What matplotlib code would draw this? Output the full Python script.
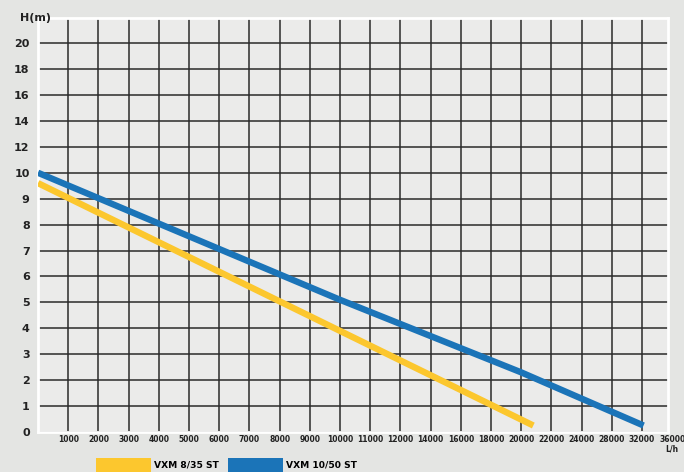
import numpy as np
import matplotlib
matplotlib.use("Agg")
import matplotlib.pyplot as plt
from matplotlib.patches import Patch

# axis tick labels (evenly spaced on the chart, irregular values)
flow_ticks = [0, 1000, 2000, 3000, 4000, 5000, 6000, 7000, 8000, 9000, 10000,
              11000, 12000, 14000, 16000, 18000, 20000, 22000, 24000, 28000,
              32000, 36000]
head_ticks = [0, 1, 2, 3, 4, 5, 6, 7, 8, 9, 10, 12, 14, 16, 18, 20]

# pump curves (flow L/h, head m)
vxm835_flow = [0, 10000, 18000, 20800]
vxm835_head = [9.6, 3.9, 1.05, 0.25]
vxm1050_flow = [0, 10000, 20000, 32200]
vxm1050_head = [10.0, 5.1, 2.3, 0.25]

labels = ["VXM 8/35 ST", "VXM 10/50 ST"]
colors = ["#FCC72E", "#1B74B8"]

FONT = ["Liberation Sans Narrow", "DejaVu Sans"]
plt.rcParams["font.family"] = FONT
plt.rcParams["font.weight"] = "bold"


def fx(v):
    return np.interp(v, flow_ticks, np.arange(len(flow_ticks)))


def fy(v):
    return np.interp(v, head_ticks, np.arange(len(head_ticks)))


fig = plt.figure(figsize=(6.84, 4.72), dpi=100)
fig.patch.set_facecolor("#E4E5E3")
ax = fig.add_axes([38 / 684, 40 / 472, 630 / 684, 414 / 472])
ax.set_facecolor("#EBEBEA")

ax.plot(fx(vxm835_flow), fy(vxm835_head), color=colors[0], lw=4.6,
        solid_capstyle="butt", zorder=3)
ax.plot(fx(vxm1050_flow), fy(vxm1050_head), color=colors[1], lw=4.6,
        solid_capstyle="butt", zorder=3)

ax.set_xlim(0, 20.86)
ax.set_ylim(0, 15.97)

# gridlines only up to 32000, the last label sits past the frame
ax.set_xticks(np.arange(1, len(flow_ticks) - 1))
ax.set_xticklabels([str(v) for v in flow_ticks[1:-1]], fontsize=5.5,
                   fontweight="bold", color="#222222")
ax.text(len(flow_ticks) - 1, -0.12, str(flow_ticks[-1]), fontsize=5.5,
        fontweight="bold", color="#222222", ha="center", va="top",
        clip_on=False)
ax.text(len(flow_ticks) - 1, -0.5, "L/h", fontsize=5.5,
        fontweight="bold", color="#222222", ha="center", va="top",
        clip_on=False)

ax.set_yticks(np.arange(len(head_ticks)))
ax.set_yticklabels([str(v) for v in head_ticks], fontsize=8,
                   fontweight="bold", color="#222222")
ax.tick_params(length=0)
ax.tick_params(axis="x", pad=2.2)
ax.tick_params(axis="y", pad=6)

ax.grid(True, color="#2A2A2A", lw=1.1)
ax.set_axisbelow(True)
for s in ax.spines.values():
    s.set_color("white")
    s.set_linewidth(2)

fig.text(20 / 684, 1 - 18 / 472, "H(m)", fontsize=8, fontweight="bold",
         ha="left", va="center", color="#222222")

handles = [Patch(facecolor=c, edgecolor="none") for c in colors]
fig.legend(handles, labels, loc="center left",
           bbox_to_anchor=(88 / 684, 1 - 465 / 472), ncol=2, frameon=False,
           handlelength=6.0, handleheight=2.0,
           handletextpad=0.3, columnspacing=1.0,
           prop={"family": FONT, "weight": "bold", "size": 6.6})

fig.savefig("out.png", dpi=100, facecolor=fig.get_facecolor())
